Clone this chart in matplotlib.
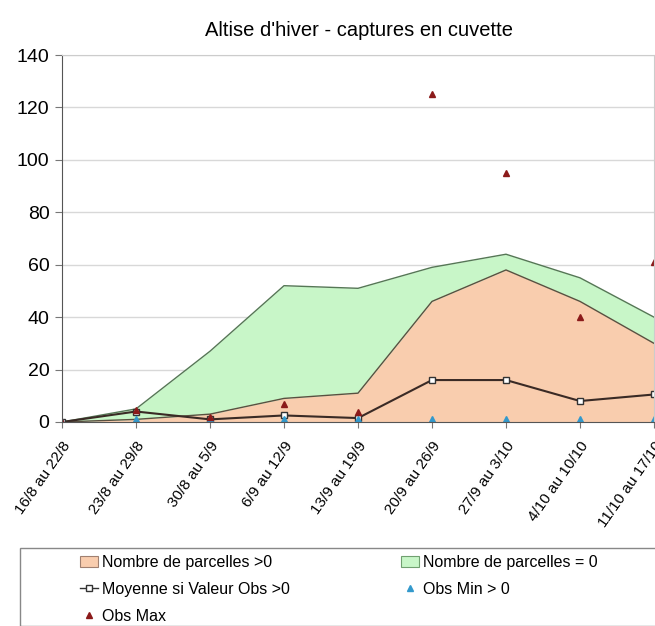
import matplotlib
matplotlib.use("Agg")
import matplotlib.pyplot as plt
from matplotlib.patches import Rectangle, Patch
from matplotlib.lines import Line2D
from matplotlib import font_manager
import numpy as np

names = {f.name for f in font_manager.fontManager.ttflist}
fam = ['Liberation Sans Narrow', 'Liberation Sans', 'DejaVu Sans']
fam = [f for f in fam if f in names] or ['DejaVu Sans']
plt.rcParams['font.family'] = fam

semaines = ["16/8 au 22/8", "23/8 au 29/8", "30/8 au 5/9", "6/9 au 12/9", "13/9 au 19/9",
            "20/9 au 26/9", "27/9 au 3/10", "4/10 au 10/10", "11/10 au 17/10"]
parcelles_pos = [0, 1, 3, 9, 11, 46, 58, 46, 30]
parcelles_zero = [0, 4, 24, 43, 40, 13, 6, 9, 10]
moyenne = [0, 4, 1, 2.5, 1.5, 16, 16, 8, 10.5]
obs_min = [0, 1, 1, 1, 1, 1, 1, 1, 1]
obs_max = [0, 4.5, 2, 7, 4, 125, 95, 40, 61]

c_orange = '#F9CDAE'
c_green = '#C8F6C8'

fig = plt.figure(figsize=(6.55, 6.26), dpi=100)
ax = fig.add_axes([62/655, 1-422/626, 592/655, (422-55)/626])

x = np.arange(len(semaines))
pos = np.array(parcelles_pos)
tot = pos + np.array(parcelles_zero)
ax.fill_between(x, 0, pos, color=c_orange, lw=0, zorder=2)
ax.fill_between(x, pos, tot, color=c_green, lw=0, zorder=2)
ax.plot(x, pos, color='#5a5040', lw=1, zorder=3)
ax.plot(x, tot, color='#557755', lw=1, zorder=3)

ax.plot(x, moyenne, color='#3a2a25', lw=1.5, marker='s', ms=5, mfc='white', mec='#333333',
        mew=1, zorder=5)
ax.plot(x, obs_min, ls='none', marker='^', ms=5, color='#3399CC', zorder=6)
ax.plot(x, obs_max, ls='none', marker='^', ms=5, color='#8B1A1A', zorder=6)

ax.set_xlim(0, 8)
ax.set_ylim(0, 140)
ax.set_yticks(range(0, 141, 20))
ax.tick_params(axis='y', labelsize=14, length=5, color='#777777', pad=4)
ax.set_xticks(x)
ax.set_xticklabels(semaines, rotation=55, ha='right', va='top', rotation_mode='anchor', fontsize=11)
ax.tick_params(axis='x', length=4, color='#777777', pad=8)
ax.grid(axis='y', color='#d8d8d8', lw=1, zorder=0)
ax.set_axisbelow(True)
ax.spines['left'].set_color('#555555')
ax.spines['bottom'].set_color('#555555')
ax.spines['top'].set_color('#cccccc')
ax.spines['right'].set_color('#cccccc')
for s in ax.spines.values():
    s.set_zorder(7)

fig.text(359/655, 1-30/626, "Altise d'hiver - captures en cuvette", ha='center', va='center', fontsize=14.5)

# cadre de la légende
fig.patches.append(Rectangle((20/655, 0), 0.99, (626-548)/626, transform=fig.transFigure,
                             fill=False, ec='#888888', lw=1))
handles = [
    Patch(fc=c_orange, ec='#a08070', lw=0.8),
    Line2D([], [], color='#333333', lw=1, marker='s', ms=4, mfc='white', mec='#333333'),
    Line2D([], [], ls='none', marker='^', ms=4, color='#8B1A1A'),
    Patch(fc=c_green, ec='#70a070', lw=0.8),
    Line2D([], [], ls='none', marker='^', ms=4, color='#3399CC'),
]
labels = ["Nombre de parcelles >0", "Moyenne si Valeur Obs >0", "Obs Max",
          "Nombre de parcelles = 0", "Obs Min > 0"]
fig.legend(handles, labels, loc='upper left', bbox_to_anchor=(80/655, 1-555/626), ncol=2,
           frameon=False, fontsize=11.5, handlelength=1.1, handletextpad=0.25, labelspacing=0.75,
           columnspacing=7.0, borderpad=0, borderaxespad=0)

fig.savefig('out.png', dpi=100)
